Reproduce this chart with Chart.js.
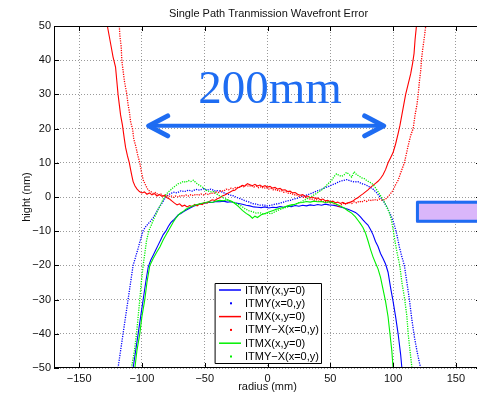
<!DOCTYPE html>
<html>
<head>
<meta charset="utf-8">
<script src="https://cdn.jsdelivr.net/npm/chart.js@4.4.1/dist/chart.umd.min.js"></script>
<style>
  html, body { margin: 0; padding: 0; background: #fff; overflow: hidden; }
  #wrap { width: 477px; height: 395px; overflow: hidden; position: relative; }
  #box { width: 490px; height: 395px; }
</style>
</head>
<body>
<div id="wrap"><div id="box"><canvas id="chart"></canvas></div></div>
<script>
// tick labels
const xTicks = [-150, -100, -50, 0, 50, 100, 150];
const yTicks = [-50, -40, -30, -20, -10, 0, 10, 20, 30, 40, 50];

const seriesLabels = ['ITMY(x,y=0)', 'ITMY(x=0,y)', 'ITMX(x,y=0)', 'ITMY\u2212X(x=0,y)', 'ITMX(x,y=0)', 'ITMY\u2212X(x=0,y)'];

// ITMY(x,y=0) - blue line
const blueLineX = [-107,-105,-103,-101,-99,-97,-95,-93,-91,-89,-87,-85,-83,-81,-79,-77,-75,-73,-71,-69,-67,-65,
  -62,-59,-56,-53,-50,-47,-44,-41,-38,-35,-32,-29,-26,-23,-20,-17,-14,-11,-8,-5,-2,1,4,7,10,13,16,19,22,25,28,31,34,37,40,43,46,49,52,55,58,61,64,67,70,
  72,74,76,78,80,82,84,86,88,90,92,94,96,98,100,102,104,106,107];
const blueLineY = [-50,-45,-40,-35,-30,-25,-20.5,-18.5,-17,-15.5,-14,-12.5,-11,-10,-8.6,-7.5,-6.8,-6,-5.2,-4.8,-4.3,-3.9,
  -3.3,-2.7,-2.3,-2.0,-1.8,-1.5,-1.6,-1.3,-1.4,-1.2,-1.5,-1.4,-1.7,-1.9,-2.1,-2.4,-2.6,-2.9,-3.0,-3.1,-2.9,-3.2,-3.0,-3.1,-2.8,-3.0,-2.7,-2.8,-2.5,-2.7,-2.4,-2.6,-2.3,-2.5,-2.2,-2.4,-2.1,-2.3,-2.4,-2.6,-2.9,-3.2,-3.6,-4.0,-4.5,
  -5.1,-5.8,-6.7,-7.5,-8.2,-9.5,-11,-13,-14.5,-16.5,-18,-19.6,-22,-26.5,-30.5,-35,-40,-46,-50];

// ITMY(x=0,y) - blue dots
const blueDotX = [-119,-117,-115,-113,-111,-109,-107,-105,-103,-101,-99,-97,-95,-93,-91,-89,-87,-85,-83,-81,-79,-77,-75,
  -72,-69,-66,-63,-60,-57,-54,-51,-48,-45,-42,-39,-36,-33,-30,-27,-24,-21,-18,-15,-12,-9,-6,-3,0,3,6,9,12,15,18,21,24,27,30,33,36,39,42,45,48,51,54,57,60,63,66,69,72,75,78,81,84,87,
  89,91,93,95,97,99,101,103,105,107,109,111,113,115,117,119,121,122];
const blueDotY = [-50,-45,-40,-35,-30,-25,-20,-17.5,-15,-12.3,-9.8,-8.7,-7.8,-7,-6,-4.8,-3.5,-2.3,-1.2,0,0.7,1.0,1.4,
  1.2,1.8,1.6,2.0,1.7,2.2,2.0,2.4,2.1,2.3,1.8,1.9,1.4,1.0,0.6,0.3,-0.2,-0.6,-1.1,-1.4,-1.9,-2.1,-2.4,-2.3,-2.6,-2.4,-2.1,-1.9,-1.6,-1.2,-1.0,-0.6,-0.3,0.1,0.4,0.8,1.2,1.7,2.1,2.6,3.0,3.5,3.9,4.5,4.8,5.1,4.7,4.4,4.5,3.9,3.6,3.0,2.3,1.2,
  0.3,-0.6,-1.6,-2.9,-4.4,-6.0,-8.2,-11,-14.6,-17.5,-20,-25,-30,-36,-41,-45,-48.5,-50];

// ITMX(x,y=0) - red line
const redLineX = [-127.5,-126,-124.5,-123,-121,-120,-119,-118,-117,-115.5,-114,-113,-111.5,-110,-109,-108,-107,-105.5,-104,-102,
  -100,-98,-96,-94,-92,-90,-88,-86,-84,-82,-80,-78,-76,-74,-72,-70,-68,-66,-64,-62,-60,-58,-56,-54,-52,-50,-48,-46,-44,-42,
  -40,-38,-36,-34,-32,-30,-28,-26,-24,-22,-20,-18,-16,-14,-12,-10,-8,-6,-4,-2,0,2,4,6,8,10,12,14,16,18,
  20,22,24,26,28,30,32,34,36,38,40,42,44,46,48,50,52,54,56,58,60,62,64,66,68,70,72,74,76,78,80,82,84,86,88,90,92,94,
  96,98,100,102,104,105.5,107,108.5,110,112,114,115.5,116.7,117.5,118.6];
const redLineY = [50,47,44,41,38,34,30,27,24,21,17,14.5,12,10,8,6.2,4.5,3.2,2.4,1.6,
  1.2,1.5,0.8,1.2,0.6,1.0,0.3,0.7,0.2,0.5,-0.2,-0.6,-1.2,-1.8,-2.3,-2.0,-2.7,-2.4,-2.9,-2.5,-2.8,-2.2,-2.6,-2.0,-2.2,-1.6,-1.8,-1.2,-0.8,-1.0,
  -0.5,-0.2,0.3,0.6,1.0,1.4,1.8,2.0,2.6,2.9,3.4,3.2,3.9,3.6,3.3,3.7,3.2,3.5,3.0,3.3,2.9,3.1,2.6,2.8,2.3,2.5,2.0,2.1,1.6,1.7,
  1.2,1.3,0.8,0.5,0.7,0.2,0.3,-0.2,0.0,-0.4,-0.3,-0.8,-0.6,-1.1,-1.0,-1.4,-1.2,-1.7,-1.5,-1.9,-1.6,-2.0,-1.7,-1.5,-1.2,-0.6,-0.2,0.4,0.9,1.5,2.1,2.8,3.4,4.0,4.6,5.4,6.5,8.0,
  10,11.5,13,15.5,18.5,21,24,27,30,33,36,39,42,46,50];

// ITMY-X(x=0,y) - red dots
const redDotX = [-118,-117.5,-116.5,-116,-115,-114,-112,-111,-110,-109,-107.5,-106.5,-105,-103.5,-101.7,-100.5,-99,-97,-95,
  -93,-91,-89,-87,-85,-83,-81,-79,-77,-75,-73,-71,-69,-67,-65,-63,-61,-59,-57,-55,-53,-51,-49,-47,-45,-43,-41,-39,-37,-35,
  -33,-31,-29,-27,-25,-23,-21,-19,-17,-15,-13,-11,-9,-7,-5,-3,-1,1,3,5,7,9,11,13,15,17,19,21,23,25,
  27,29,31,33,35,37,39,41,43,45,47,49,51,53,55,57,59,61,63,65,67,69,71,73,75,77,79,81,83,85,87,89,91,93,95,
  96.5,98,100,102,104,105.5,107,109,110.5,112,114,116,117.5,119,120,121,122,122.6,123.5,125,126];
const redDotY = [50,47,44,40,37,34,30,27,25,22,20,17,15,12.5,10,7.5,5,3.4,2,
  1.6,1.0,1.3,0.6,0.9,0.3,0.6,0.1,0.4,-0.1,0.3,0.0,0.5,0.2,0.6,0.3,0.7,0.4,0.8,0.5,0.9,0.6,1.0,0.7,1.2,1.0,1.5,1.3,1.9,1.7,
  2.3,2.1,2.6,2.4,2.9,2.7,3.2,3.0,3.5,3.1,3.4,2.9,3.2,2.7,3.0,2.5,2.8,2.3,2.5,2.0,2.2,1.7,1.9,1.4,1.5,1.0,1.1,0.6,0.7,0.2,
  0.3,-0.2,-0.1,-0.6,-0.5,-0.9,-0.8,-1.2,-1.1,-1.5,-1.3,-1.7,-1.5,-2.0,-2.3,-3.0,-2.2,-1.8,-2.1,-1.6,-1.9,-1.4,-1.7,-1.2,-1.5,-1.0,-1.3,-0.8,-1.1,-0.7,-1.0,-0.6,-0.9,-0.8,-0.3,
  0.3,1.0,2,3.6,4.9,6.5,8,10,12.5,15,18,20,24,27,30,34,37,40,43,47,50];

// ITMX(x,y=0) - green line
const greenLineX = [-105.6,-104,-101.7,-100,-97.7,-96,-93.7,-91,-88,-85.7,-83,-80,-77,-75,-73,-71,-69,-67,-65,
  -62,-59,-56,-53,-50,-47,-44,-41,-38,-35,-32,-29,-26,-23,-20,-17,-14,-12,-10,-8,
  -5,-2,1,4,7,10,13,16,19,22,25,28,31,34,37,40,43,46,49,52,55,58,61,64,67,70,
  72,74,76,78,80,82,84,86,88,90,92,94,96,97.5,99,100];
const greenLineY = [-50,-45,-40,-35,-30,-25,-20,-18,-16,-14.6,-12.5,-10.5,-8.6,-7.3,-6.2,-5.3,-4.6,-4.2,-3.6,
  -3.0,-2.5,-2.2,-1.9,-1.7,-1.4,-1.6,-1.2,-1.0,-1.1,-0.8,-1.2,-1.9,-2.8,-3.9,-4.8,-5.5,-6.2,-5.6,-6.0,
  -5.2,-4.8,-4.4,-4.0,-3.6,-3.3,-3.0,-2.6,-2.3,-2.1,-1.7,-1.6,-1.3,-1.5,-1.2,-1.4,-1.3,-1.6,-1.4,-1.7,-2.1,-2.6,-3.2,-4.0,-4.7,-5.8,
  -6.8,-7.8,-8.9,-10.5,-12.8,-15.3,-17.5,-19.3,-21,-23.5,-27,-30.5,-35,-40,-45,-50];

// ITMY-X(x=0,y) - green dots
const greenDotX = [-108.3,-106,-104.3,-103,-101.7,-100.5,-99,-97.5,-96.3,-94.3,-92.5,-91,
  -89,-87,-85,-83,-81,-79,-77,-75,-73,-71,-69,-67,-65,-63,-61,-59,-57,-55,-53,-51,-49,-47,-45,-43,-41,-39,-37,-35,-33,
  -30,-27,-24,-21,-18,-15,-12,-9,-6,-3,0,3,6,9,12,15,18,21,24,27,30,33,36,39,42,45,48,51,
  53,55,57,59,61,63,65,67,69,71,73,75,77,79,81,83,85,87,89,91,93,95,97,
  98.7,100,101.4,103,105.3,107,109.3,111,112,113.5,115];
const greenDotY = [-50,-45,-40,-35,-30,-25,-20,-16,-12.7,-9.7,-8.2,-6.8,
  -5.2,-3.6,-2.2,-0.6,0.6,1.5,2.1,2.8,3.3,3.9,4.1,4.6,4.3,4.8,4.5,4.9,4.2,3.6,3.2,2.7,2.0,1.7,1.5,1.6,1.1,0.5,0.2,-0.3,-0.6,
  -1.2,-1.5,-2.0,-2.6,-3.4,-4.0,-4.3,-4.7,-4.6,-5.0,-4.7,-4.9,-4.3,-3.8,-3.4,-3.0,-2.7,-2.2,-1.9,-1.4,-0.8,-0.2,0.4,1.0,1.8,2.6,3.8,4.8,
  6.0,6.8,6.3,6.0,6.5,7.2,6.6,5.8,7.4,6.5,6.1,5.6,5.4,4.8,4.4,4.0,3.2,2.1,1.0,-0.2,-1.5,-2.9,-4.6,
  -6.8,-9.5,-12.7,-16,-20,-25,-30,-35,-40,-45,-50];

const zip = (xs, ys) => xs.map((v, i) => ({ x: v, y: ys[i] }));

const font = '11px "Liberation Sans", Arial, Helvetica, sans-serif';
const blue = '#0000ff', red = '#ff0000', green = '#00f000';
const annBlue = '#1e6cf2';
const fmt = v => (v < 0 ? '\u2212' + Math.abs(v) : String(v));

function lineSet(label, pts, color, dotted, order) {
    return {
        label: label,
        data: pts,
        borderColor: color,
        backgroundColor: color,
        borderWidth: dotted ? 1.3 : 1.1,
        borderDash: dotted ? [1.2, 1.2] : [],
        pointRadius: 0,
        showLine: true,
        tension: 0,
        dotted: dotted,
        order: order
    };
}

// annotation, legend, frame and labels
const extras = {
    id: 'extras',
    afterDatasetsDraw(chart) {
        const { ctx, chartArea: a, scales: { x, y } } = chart;
        ctx.save();

        // frame with inward ticks
        ctx.strokeStyle = '#000';
        ctx.lineWidth = 1;
        ctx.strokeRect(a.left + 0.5, a.top + 0.5, a.right - a.left - 1, a.bottom - a.top - 1);
        ctx.beginPath();
        xTicks.forEach(v => {
            const px = Math.round(x.getPixelForValue(v)) + 0.5;
            ctx.moveTo(px, a.bottom); ctx.lineTo(px, a.bottom - 5);
            ctx.moveTo(px, a.top); ctx.lineTo(px, a.top + 5);
        });
        yTicks.forEach(v => {
            const py = Math.round(y.getPixelForValue(v)) + 0.5;
            ctx.moveTo(a.left, py); ctx.lineTo(a.left + 5, py);
            ctx.moveTo(a.right, py); ctx.lineTo(a.right - 5, py);
        });
        ctx.stroke();

        // "200mm" arrow
        const x1 = x.getPixelForValue(-96.2), x2 = x.getPixelForValue(94.1), ay = y.getPixelForValue(20.8);
        ctx.strokeStyle = annBlue;
        ctx.lineCap = 'round';
        ctx.lineJoin = 'round';
        ctx.lineWidth = 4;
        ctx.beginPath();
        ctx.moveTo(x1 + 3, ay); ctx.lineTo(x2 - 3, ay);
        ctx.stroke();
        ctx.lineWidth = 5;
        ctx.beginPath();
        ctx.moveTo(x1 + 21, ay - 10); ctx.lineTo(x1 + 2, ay); ctx.lineTo(x1 + 21, ay + 10);
        ctx.moveTo(x2 - 21, ay - 10); ctx.lineTo(x2 - 2, ay); ctx.lineTo(x2 - 21, ay + 10);
        ctx.stroke();

        ctx.fillStyle = annBlue;
        ctx.font = '47px "Liberation Serif", "Times New Roman", serif';
        ctx.textAlign = 'center';
        ctx.textBaseline = 'alphabetic';
        ctx.fillText('200mm', x.getPixelForValue(2), y.getPixelForValue(27.4));

        // purple box at the right
        const rx = x.getPixelForValue(118.2), ry = y.getPixelForValue(-1.08), rb = y.getPixelForValue(-7.5);
        ctx.fillStyle = '#dab6fa';
        ctx.fillRect(rx, ry, 80, rb - ry);
        ctx.strokeStyle = annBlue;
        ctx.lineWidth = 3;
        ctx.strokeRect(rx + 1.5, ry + 1.5, 80, rb - ry - 3);

        // legend
        const lx = a.left + 161, ly = a.top + 257, lw = 106, lh = 80;
        ctx.fillStyle = '#fff';
        ctx.fillRect(lx, ly, lw, lh);
        ctx.strokeStyle = '#000';
        ctx.lineWidth = 1;
        ctx.setLineDash([]);
        ctx.strokeRect(lx + 0.5, ly + 0.5, lw, lh);
        ctx.font = font;
        ctx.textAlign = 'left';
        ctx.textBaseline = 'middle';
        ctx.lineCap = 'butt';
        chart.data.datasets.forEach((ds, i) => {
            const ry2 = ly + 7 + i * 13.3;
            if (ds.dotted) {
                ctx.fillStyle = ds.borderColor;
                ctx.fillRect(lx + 15, ry2 - 1, 2, 2);
            } else {
                ctx.strokeStyle = ds.borderColor;
                ctx.lineWidth = 1.5;
                ctx.beginPath();
                ctx.moveTo(lx + 4, ry2); ctx.lineTo(lx + 26, ry2);
                ctx.stroke();
            }
            ctx.fillStyle = '#000';
            ctx.fillText(ds.label, lx + 30, ry2 + 0.5);
        });

        // title and axis labels
        ctx.fillStyle = '#111';
        ctx.font = font;
        ctx.textAlign = 'center';
        ctx.fillText('Single Path Tranmission Wavefront Error', (a.left + a.right) / 2 + 1, 13.5);
        ctx.fillText('radius (mm)', (a.left + a.right) / 2, 387);
        ctx.translate(27, (a.top + a.bottom) / 2);
        ctx.rotate(-Math.PI / 2);
        ctx.fillText('hight (nm)', 0, 0);
        ctx.restore();
    }
};

const tickFont = { family: '"Liberation Sans", Arial, Helvetica, sans-serif', size: 11 };

new Chart(document.getElementById('chart'), {
    type: 'scatter',
    data: {
        datasets: [
            lineSet(seriesLabels[0], zip(blueLineX, blueLineY), blue, false, 6),
            lineSet(seriesLabels[1], zip(blueDotX, blueDotY), blue, true, 5),
            lineSet(seriesLabels[2], zip(redLineX, redLineY), red, false, 4),
            lineSet(seriesLabels[3], zip(redDotX, redDotY), red, true, 3),
            lineSet(seriesLabels[4], zip(greenLineX, greenLineY), green, false, 2),
            lineSet(seriesLabels[5], zip(greenDotX, greenDotY), green, true, 1)
        ]
    },
    options: {
        responsive: true,
        maintainAspectRatio: false,
        animation: false,
        devicePixelRatio: 1,
        layout: { padding: { top: 26, right: 9, left: 0, bottom: 0 } },
        plugins: {
            legend: { display: false },
            title: { display: false },
            tooltip: { enabled: false }
        },
        scales: {
            x: {
                type: 'linear',
                min: -170,
                max: 170,
                afterBuildTicks: s => { s.ticks = xTicks.map(v => ({ value: v })); },
                afterFit: s => { s.height = 27; },
                grid: { color: '#9a9a9a', drawTicks: false },
                border: { display: false, dash: [1, 2] },
                ticks: { padding: 4, font: tickFont, color: '#111', callback: fmt, maxRotation: 0, autoSkip: false }
            },
            y: {
                type: 'linear',
                min: -50,
                max: 50,
                afterBuildTicks: s => { s.ticks = yTicks.map(v => ({ value: v })); },
                afterFit: s => { s.width = 54; },
                grid: { color: '#9a9a9a', drawTicks: false },
                border: { display: false, dash: [1, 2] },
                ticks: { padding: 3, font: tickFont, color: '#111', callback: fmt, autoSkip: false }
            }
        }
    },
    plugins: [extras]
});
</script>
</body>
</html>
